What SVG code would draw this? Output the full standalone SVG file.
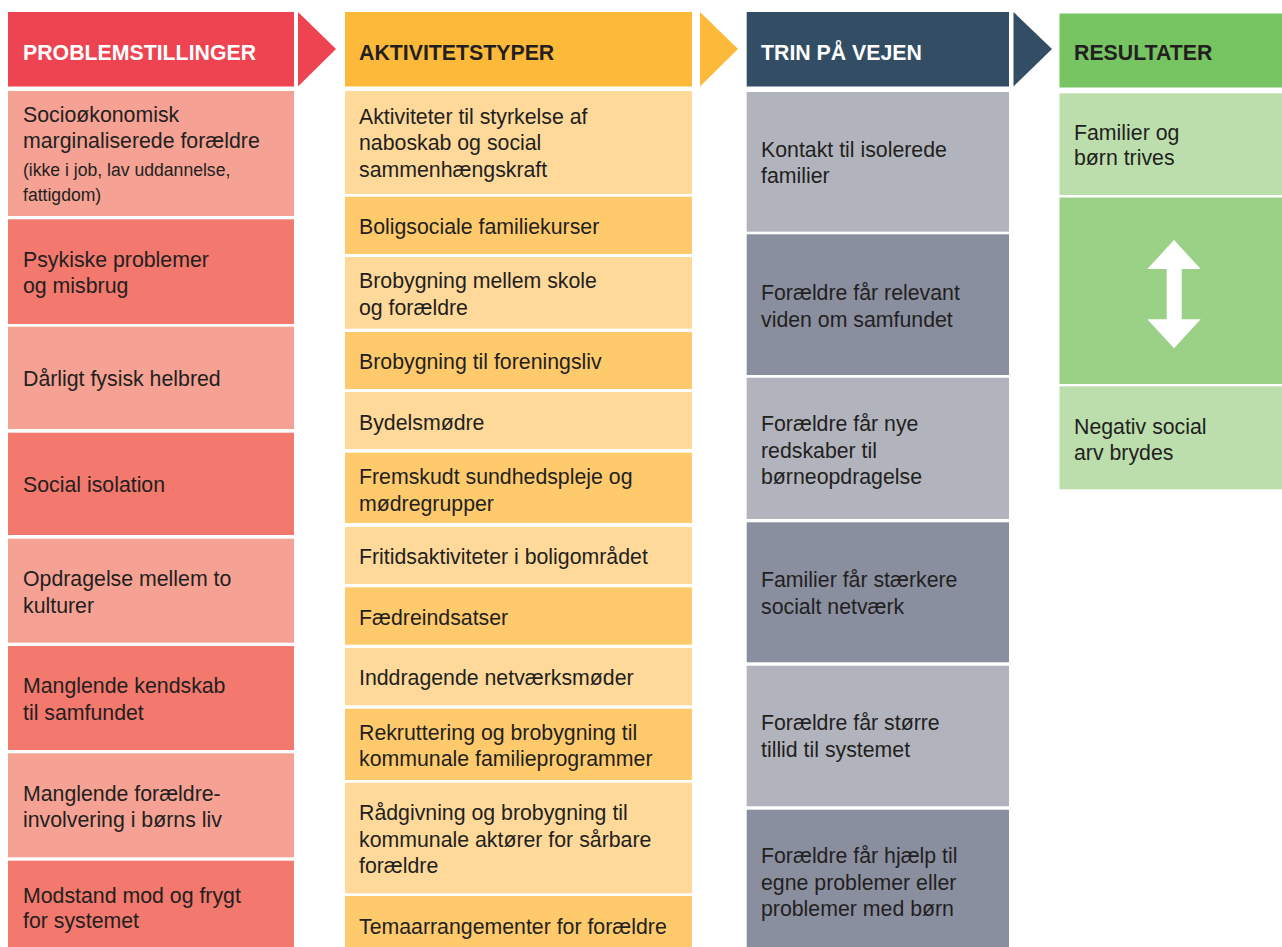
<svg xmlns="http://www.w3.org/2000/svg" width="1282" height="947" viewBox="0 0 1282 947">
<style>
text{font-family:"Liberation Sans",Arial,sans-serif;font-size:21.3px;fill:#231F20}
.h{font-weight:bold}
.hw{fill:#FFFFFF}
.sm{font-size:17.6px}
.rH{fill:#EE4350}.rL{fill:#F5A294}.rM{fill:#F3786D}
.oH{fill:#FDBA3A}.oL{fill:#FED99A}.oM{fill:#FECA6C}
.nH{fill:#324D64}.gL{fill:#B2B4BD}.gM{fill:#8A8FA0}
.eH{fill:#76C462}.eL{fill:#BCDEAD}.eM{fill:#9BD187}
</style>
<rect width="1282" height="947" fill="#FFFFFF"/>
<g id="connectors">
<polygon class="rH" points="298,12 336,49 298,86.5"/>
<polygon class="oH" points="700,12 738,49 700,86.5"/>
<polygon class="nH" points="1013.5,12 1052,49 1013.5,86.5"/>
</g>
<!-- Column 1 -->
<g id="h-problemstillinger"><rect class="rH" x="8" y="12" width="286" height="74.5"/><text class="h hw" x="23" y="59.5">PROBLEMSTILLINGER</text></g>
<g id="p1"><rect class="rL" x="8" y="91" width="286" height="125"/><text x="23" y="122.3">Socioøkonomisk</text><text x="23" y="148.3">marginaliserede forældre</text><text class="sm" x="23" y="175.7">(ikke i job, lav uddannelse,</text><text class="sm" x="23" y="201">fattigdom)</text></g>
<g id="p2"><rect class="rM" x="8" y="219.3" width="286" height="104.7"/><text x="23" y="266.5">Psykiske problemer</text><text x="23" y="293.2">og misbrug</text></g>
<g id="p3"><rect class="rL" x="8" y="326.7" width="286" height="102.3"/><text x="23" y="386">Dårligt fysisk helbred</text></g>
<g id="p4"><rect class="rM" x="8" y="432.7" width="286" height="102.3"/><text x="23" y="492">Social isolation</text></g>
<g id="p5"><rect class="rL" x="8" y="538.7" width="286" height="104"/><text x="23" y="585.7">Opdragelse mellem to</text><text x="23" y="612.5">kulturer</text></g>
<g id="p6"><rect class="rM" x="8" y="646" width="286" height="104"/><text x="23" y="693.3">Manglende kendskab</text><text x="23" y="720">til samfundet</text></g>
<g id="p7"><rect class="rL" x="8" y="753.3" width="286" height="104"/><text x="23" y="800.7">Manglende forældre-</text><text x="23" y="827.3">involvering i børns liv</text></g>
<g id="p8"><rect class="rM" x="8" y="860.7" width="286" height="90"/><text x="23" y="902.7">Modstand mod og frygt</text><text x="23" y="928.3">for systemet</text></g>
<!-- Column 2 -->
<g id="h-aktivitetstyper"><rect class="oH" x="345" y="12" width="347" height="74.5"/><text class="h" x="359" y="59.5">AKTIVITETSTYPER</text></g>
<g id="a1"><rect class="oL" x="345" y="91" width="347" height="103"/><text x="359" y="123.5">Aktiviteter til styrkelse af</text><text x="359" y="150.2">naboskab og social</text><text x="359" y="176.9">sammenhængskraft</text></g>
<g id="a2"><rect class="oM" x="345" y="196.7" width="347" height="57.3"/><text x="359" y="233.5">Boligsociale familiekurser</text></g>
<g id="a3"><rect class="oL" x="345" y="257" width="347" height="71.7"/><text x="359" y="288">Brobygning mellem skole</text><text x="359" y="314.7">og forældre</text></g>
<g id="a4"><rect class="oM" x="345" y="332" width="347" height="57"/><text x="359" y="369">Brobygning til foreningsliv</text></g>
<g id="a5"><rect class="oL" x="345" y="392" width="347" height="57"/><text x="359" y="429.5">Bydelsmødre</text></g>
<g id="a6"><rect class="oM" x="345" y="452.7" width="347" height="70.3"/><text x="359" y="484">Fremskudt sundhedspleje og</text><text x="359" y="510.5">mødregrupper</text></g>
<g id="a7"><rect class="oL" x="345" y="527" width="347" height="57"/><text x="359" y="564">Fritidsaktiviteter i boligområdet</text></g>
<g id="a8"><rect class="oM" x="345" y="587.3" width="347" height="57.4"/><text x="359" y="624.5">Fædreindsatser</text></g>
<g id="a9"><rect class="oL" x="345" y="648" width="347" height="57.3"/><text x="359" y="685">Inddragende netværksmøder</text></g>
<g id="a10"><rect class="oM" x="345" y="708.7" width="347" height="71.3"/><text x="359" y="739.5">Rekruttering og brobygning til</text><text x="359" y="766">kommunale familieprogrammer</text></g>
<g id="a11"><rect class="oL" x="345" y="782.7" width="347" height="110.6"/><text x="359" y="820">Rådgivning og brobygning til</text><text x="359" y="846.7">kommunale aktører for sårbare</text><text x="359" y="873">forældre</text></g>
<g id="a12"><rect class="oM" x="345" y="896" width="347" height="55"/><text x="359" y="934">Temaarrangementer for forældre</text></g>
<!-- Column 3 -->
<g id="h-trin"><rect class="nH" x="746.7" y="12" width="262.3" height="74.5"/><text class="h hw" x="761" y="59.5">TRIN PÅ VEJEN</text></g>
<g id="t1"><rect class="gL" x="746.7" y="92" width="262.3" height="139.7"/><text x="761" y="156.7">Kontakt til isolerede</text><text x="761" y="182.7">familier</text></g>
<g id="t2"><rect class="gM" x="746.7" y="234.3" width="262.3" height="140.7"/><text x="761" y="300">Forældre får relevant</text><text x="761" y="326.7">viden om samfundet</text></g>
<g id="t3"><rect class="gL" x="746.7" y="377.7" width="262.3" height="141.3"/><text x="761" y="431">Forældre får nye</text><text x="761" y="457.5">redskaber til</text><text x="761" y="484">børneopdragelse</text></g>
<g id="t4"><rect class="gM" x="746.7" y="522.3" width="262.3" height="140"/><text x="761" y="587">Familier får stærkere</text><text x="761" y="613.5">socialt netværk</text></g>
<g id="t5"><rect class="gL" x="746.7" y="665.7" width="262.3" height="140.6"/><text x="761" y="730">Forældre får større</text><text x="761" y="756.7">tillid til systemet</text></g>
<g id="t6"><rect class="gM" x="746.7" y="809.7" width="262.3" height="141"/><text x="761" y="863">Forældre får hjælp til</text><text x="761" y="889.5">egne problemer eller</text><text x="761" y="916">problemer med børn</text></g>
<!-- Column 4 -->
<g id="h-resultater"><rect class="eH" x="1059.5" y="13.5" width="222.5" height="74"/><text class="h" x="1074" y="60">RESULTATER</text></g>
<g id="r1"><rect class="eL" x="1059.5" y="93.3" width="222.5" height="101.7"/><text x="1074" y="139.5">Familier og</text><text x="1074" y="164.5">børn trives</text></g>
<g id="r2"><rect class="eM" x="1059.5" y="197.5" width="222.5" height="186.5"/><polygon fill="#FFFFFF" points="1174,240 1200.7,269 1181.7,269 1181.7,319.3 1200.7,319.3 1174,348.3 1147.3,319.3 1166.7,319.3 1166.7,269 1147.3,269"/></g>
<g id="r3"><rect class="eL" x="1059.5" y="386.3" width="222.5" height="103"/><text x="1074" y="434">Negativ social</text><text x="1074" y="460">arv brydes</text></g>
</svg>
